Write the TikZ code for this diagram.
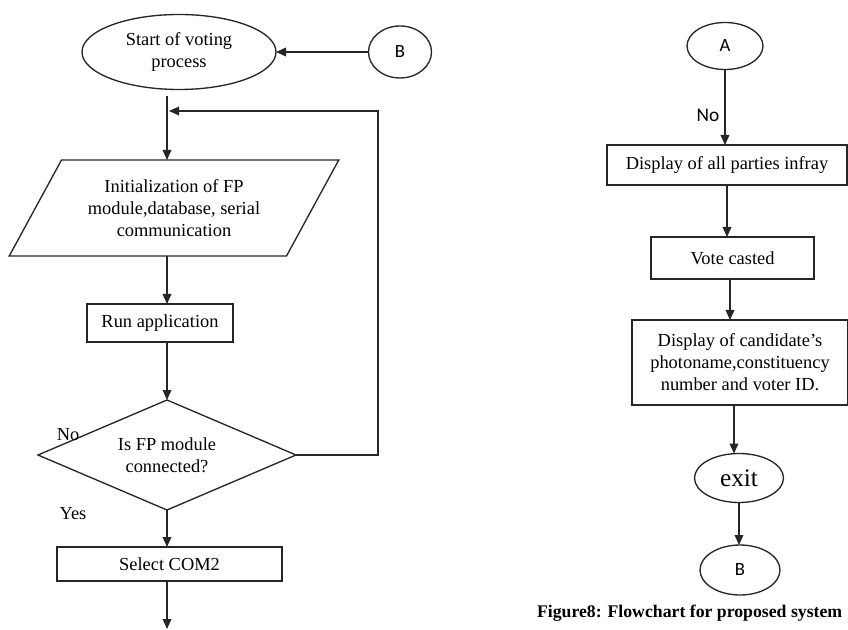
\documentclass[tikz,border=0pt]{standalone}
\usepackage{fontspec}
\setmainfont{Liberation Serif}
\newfontfamily\sansA{Carlito}
\usetikzlibrary{shapes.geometric,arrows.meta}
\newdimen\pxu \pxu=0.75pt
\begin{document}
\begin{tikzpicture}[x=0.75pt,y=-0.75pt,
  font=\fontsize{13.8}{16.5}\selectfont,
  every node/.style={inner sep=0pt, outer sep=0pt},
  shapeline/.style={draw=black!85, line width=1pt, fill=white},
  oval/.style={shapeline, ellipse, align=center},
  box/.style={shapeline, rectangle, align=center},
  arr/.style={draw=black!85, line width=1pt, -{Triangle[length=7.5pt,width=6.5pt]}},
  lbl/.style={font=\fontsize{13.8}{16}\selectfont},
  letter/.style={font=\sansA\fontsize{14}{16}\selectfont}
]
\useasboundingbox (0,0) rectangle (848,630);

% ---- left column: start of voting ----
\coordinate (trunk) at (167,0);
\node[oval, minimum width=194\pxu, minimum height=75\pxu] (start) at (179,52) {Start of voting\\process};
\node[oval, letter, minimum width=63\pxu, minimum height=52\pxu] (Bin) at (400,52) {B};
\node[shapeline, trapezium, trapezium left angle=55, trapezium right angle=125,
      trapezium stretches=true, minimum width=330\pxu, minimum height=96\pxu, align=center] (init) at (174,208)
      {Initialization of FP\\module,database, serial\\communication};
\node[box, minimum width=146\pxu, minimum height=38\pxu] (run) at (160,323) {Run application};
\node[shapeline, diamond, shape aspect=2.35, minimum width=258\pxu, minimum height=110\pxu, align=center] (dec) at (167,455)
      {Is FP module\\connected?};
\node[box, minimum width=225\pxu, minimum height=34\pxu] (com2) at (169.5,564) {Select COM2};
\coordinate (loopTop) at (378,111);
\coordinate (loopIn) at (169,111);
\coordinate (end) at (167,629);

\draw[arr] (Bin.west) -- (start.east);
\draw[arr, shorten <=7\pxu] (start.south -| trunk) -- (init.north -| trunk);
\draw[arr] (dec.east) -| (loopTop) -- (loopIn);
\draw[arr] (init.south -| trunk) -- (run.north -| trunk);
\draw[arr] (run.south -| trunk) -- (dec.north -| trunk);
\draw[arr] (dec.south -| trunk) -- (com2.north -| trunk);
\draw[arr] (com2.south -| trunk) -- (end);

\node[lbl] (noL) at (68,435) {No};
\node[lbl] (yesL) at (73,514) {Yes};

% ---- right column: casting the vote ----
\node[oval, letter, minimum width=76\pxu, minimum height=47\pxu] (A) at (725,46) {A};
\node[box, minimum width=240\pxu, minimum height=40\pxu] (disp) at (727,165) {Display of all parties infray};
\node[box, minimum width=163\pxu, minimum height=42\pxu] (vote) at (732.5,258) {Vote casted};
\node[box, minimum width=216\pxu, minimum height=85\pxu] (cand) at (740,362.5)
      {Display of candidate’s\\photoname,constituency\\number and voter ID.};
\node[oval, minimum width=89\pxu, minimum height=49\pxu, font=\fontsize{19}{20}\selectfont] (exit) at (739,478) {exit};
\node[oval, letter, minimum width=80\pxu, minimum height=50\pxu] (Bout) at (740,570) {B};

\draw[arr] (A.south) -- (A.south |- disp.north);
\draw[arr] (disp.south) -- (disp.south |- vote.north);
\draw[arr] ([xshift=-1.875pt]vote.south) -- ([xshift=-1.875pt]vote.south |- cand.north);
\draw[arr] ([xshift=-3.75pt]exit.north |- cand.south) -- ([xshift=-3.75pt]exit.north);
\draw[arr] (exit.south) -- (exit.south |- Bout.north);

\node[font=\sansA\fontsize{14.5}{16}\selectfont] (noR) at (708,115) {No};

\node[anchor=west, font=\bfseries\fontsize{13.3}{16}\selectfont] (cap) at (537,613)
      {Figure8: Flowchart for proposed system};
\end{tikzpicture}
\end{document}
